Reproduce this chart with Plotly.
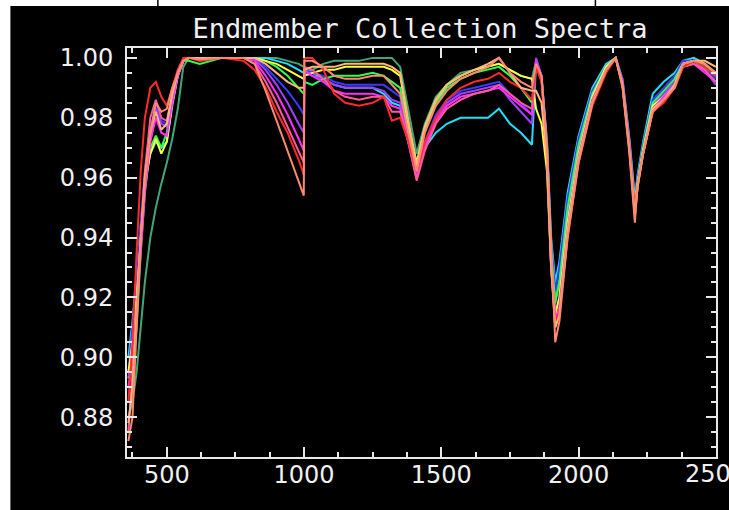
import plotly.graph_objects as go

# Wavelength samples (nm)
wavelength = [360, 375, 390, 405, 420, 440, 460, 480, 500, 520,
              540, 560, 580, 620, 700, 780, 820, 860, 900, 940,
              980, 999, 1001, 1030, 1070, 1110, 1150, 1200, 1250, 1290,
              1320, 1350, 1380, 1410, 1440, 1480, 1520, 1570, 1620, 1670,
              1710, 1750, 1790, 1830, 1845, 1865, 1885, 1900, 1915, 1930,
              1960, 2000, 2050, 2100, 2135, 2160, 2185, 2205, 2215, 2235,
              2270, 2310, 2350, 2380, 2420, 2460, 2500]

# Continuum-removed reflectance for each endmember
seagreen = [0.880, 0.885, 0.895, 0.910, 0.925, 0.940, 0.950, 0.958, 0.965, 0.973,
            0.983, 0.997, 1.000, 1.000, 1.000, 1.000, 1.000, 1.000, 1.000, 0.999,
            0.998, 0.997, 0.995, 0.996, 0.998, 0.999, 0.999, 0.999, 1.000, 1.000,
            1.000, 0.997, 0.982, 0.968, 0.978, 0.987, 0.991, 0.995, 0.996, 0.997,
            0.998, 0.996, 0.994, 0.993, 0.999, 0.994, 0.971, 0.936, 0.920, 0.926,
            0.950, 0.970, 0.987, 0.997, 1.000, 0.992, 0.972, 0.951, 0.959, 0.970,
            0.985, 0.988, 0.992, 0.998, 0.999, 0.997, 0.994]
cyan = [0.900, 0.912, 0.928, 0.945, 0.960, 0.968, 0.972, 0.970, 0.972, 0.984,
        0.994, 0.999, 1.000, 1.000, 1.000, 1.000, 1.000, 1.000, 0.999, 0.998,
        0.996, 0.995, 0.996, 0.995, 0.993, 0.991, 0.990, 0.990, 0.990, 0.988,
        0.985, 0.984, 0.972, 0.963, 0.970, 0.975, 0.978, 0.980, 0.980, 0.980,
        0.983, 0.978, 0.975, 0.971, 0.998, 0.993, 0.972, 0.940, 0.925, 0.932,
        0.955, 0.974, 0.990, 0.998, 1.000, 0.993, 0.973, 0.953, 0.961, 0.972,
        0.988, 0.992, 0.995, 0.999, 1.000, 0.998, 0.994]
blue = [0.895, 0.910, 0.925, 0.945, 0.962, 0.976, 0.984, 0.979, 0.978, 0.988,
        0.996, 1.000, 1.000, 1.000, 1.000, 1.000, 1.000, 0.997, 0.993, 0.989,
        0.984, 0.981, 0.996, 0.995, 0.994, 0.992, 0.991, 0.991, 0.991, 0.991,
        0.989, 0.987, 0.974, 0.962, 0.972, 0.981, 0.986, 0.989, 0.990, 0.991,
        0.992, 0.988, 0.985, 0.981, 0.999, 0.994, 0.972, 0.938, 0.922, 0.930,
        0.953, 0.973, 0.989, 0.997, 1.000, 0.993, 0.973, 0.952, 0.960, 0.971,
        0.986, 0.990, 0.994, 0.999, 0.999, 0.997, 0.993]
purple = [0.893, 0.905, 0.920, 0.940, 0.958, 0.974, 0.983, 0.978, 0.977, 0.987,
          0.995, 0.999, 1.000, 1.000, 1.000, 1.000, 0.9995, 0.996, 0.991, 0.985,
          0.978, 0.975, 0.995, 0.994, 0.993, 0.991, 0.990, 0.990, 0.990, 0.989,
          0.986, 0.985, 0.973, 0.961, 0.971, 0.980, 0.985, 0.988, 0.989, 0.990,
          0.991, 0.986, 0.982, 0.978, 1.000, 0.994, 0.970, 0.933, 0.915, 0.920,
          0.946, 0.969, 0.987, 0.997, 1.000, 0.992, 0.971, 0.951, 0.958, 0.969,
          0.984, 0.988, 0.992, 0.998, 0.999, 0.996, 0.991]
green = [0.893, 0.895, 0.910, 0.935, 0.955, 0.970, 0.974, 0.970, 0.975, 0.986,
         0.995, 0.999, 0.999, 0.998, 1.000, 1.000, 1.000, 0.999, 0.997, 0.994,
         0.990, 0.988, 0.992, 0.991, 0.993, 0.994, 0.994, 0.994, 0.995, 0.994,
         0.992, 0.990, 0.976, 0.964, 0.976, 0.985, 0.990, 0.993, 0.995, 0.996,
         0.997, 0.994, 0.990, 0.985, 0.998, 0.993, 0.970, 0.935, 0.918, 0.925,
         0.950, 0.971, 0.988, 0.997, 1.000, 0.992, 0.972, 0.952, 0.959, 0.970,
         0.985, 0.989, 0.993, 0.998, 0.999, 0.997, 0.994]
yellow = [0.895, 0.905, 0.920, 0.940, 0.958, 0.968, 0.973, 0.968, 0.972, 0.985,
          0.994, 0.999, 1.000, 1.000, 1.000, 1.000, 1.000, 0.999, 0.998, 0.996,
          0.994, 0.993, 0.994, 0.995, 0.996, 0.996, 0.997, 0.997, 0.997, 0.997,
          0.996, 0.994, 0.978, 0.965, 0.977, 0.986, 0.991, 0.994, 0.996, 0.997,
          0.998, 0.996, 0.994, 0.993, 0.983, 0.978, 0.962, 0.930, 0.914, 0.920,
          0.945, 0.968, 0.987, 0.997, 1.000, 0.991, 0.970, 0.950, 0.958, 0.969,
          0.984, 0.987, 0.991, 0.998, 0.999, 0.998, 0.995]
magenta = [0.890, 0.900, 0.915, 0.935, 0.955, 0.972, 0.980, 0.975, 0.974, 0.985,
           0.994, 0.999, 1.000, 1.000, 1.000, 1.000, 0.999, 0.994, 0.988, 0.981,
           0.973, 0.969, 0.996, 0.994, 0.992, 0.989, 0.988, 0.988, 0.988, 0.987,
           0.984, 0.983, 0.972, 0.960, 0.970, 0.979, 0.984, 0.987, 0.988, 0.989,
           0.990, 0.987, 0.984, 0.981, 0.999, 0.993, 0.968, 0.930, 0.912, 0.917,
           0.943, 0.967, 0.986, 0.996, 1.000, 0.992, 0.971, 0.950, 0.957, 0.968,
           0.983, 0.987, 0.991, 0.997, 0.998, 0.995, 0.992]
pink = [0.875, 0.895, 0.915, 0.940, 0.962, 0.980, 0.986, 0.980, 0.979, 0.988,
        0.995, 0.999, 1.000, 1.000, 1.000, 1.000, 0.998, 0.992, 0.985, 0.977,
        0.969, 0.965, 0.997, 0.996, 0.993, 0.989, 0.987, 0.986, 0.987, 0.987,
        0.982, 0.982, 0.972, 0.959, 0.969, 0.978, 0.983, 0.986, 0.988, 0.989,
        0.991, 0.988, 0.985, 0.983, 0.998, 0.993, 0.968, 0.930, 0.910, 0.915,
        0.941, 0.966, 0.985, 0.996, 1.000, 0.991, 0.970, 0.948, 0.957, 0.968,
        0.982, 0.986, 0.990, 0.997, 0.998, 0.996, 0.992]
red = [0.885, 0.905, 0.935, 0.962, 0.980, 0.990, 0.992, 0.987, 0.984, 0.990,
       0.996, 1.000, 1.000, 0.999, 1.000, 0.999, 0.996, 0.990, 0.982, 0.975,
       0.966, 0.961, 1.000, 1.000, 0.996, 0.988, 0.985, 0.984, 0.985, 0.987,
       0.979, 0.980, 0.972, 0.962, 0.972, 0.980, 0.986, 0.990, 0.992, 0.993,
       0.995, 0.992, 0.990, 0.986, 0.997, 0.992, 0.968, 0.932, 0.912, 0.915,
       0.940, 0.965, 0.984, 0.995, 1.000, 0.991, 0.970, 0.949, 0.957, 0.968,
       0.982, 0.985, 0.990, 0.997, 0.999, 0.997, 0.994]
tan = [0.878, 0.890, 0.915, 0.940, 0.960, 0.975, 0.982, 0.976, 0.978, 0.988,
       0.995, 0.999, 1.000, 1.000, 1.000, 1.000, 1.000, 0.998, 0.995, 0.992,
       0.990, 0.990, 0.996, 0.997, 0.997, 0.997, 0.998, 0.998, 0.998, 0.998,
       0.997, 0.995, 0.979, 0.964, 0.977, 0.986, 0.991, 0.994, 0.996, 0.998,
       1.000, 0.995, 0.990, 0.989, 0.989, 0.985, 0.965, 0.930, 0.910, 0.914,
       0.942, 0.966, 0.985, 0.996, 1.000, 0.991, 0.969, 0.947, 0.957, 0.968,
       0.983, 0.986, 0.991, 0.998, 0.999, 0.999, 0.997]
salmon = [0.872, 0.880, 0.910, 0.940, 0.958, 0.975, 0.985, 0.982, 0.983, 0.990,
          0.995, 0.999, 1.000, 0.9995, 1.000, 1.000, 0.998, 0.989, 0.979, 0.969,
          0.959, 0.954, 0.999, 0.999, 0.997, 0.994, 0.993, 0.993, 0.994, 0.994,
          0.991, 0.988, 0.975, 0.962, 0.975, 0.984, 0.989, 0.993, 0.995, 0.997,
          1.000, 0.995, 0.992, 0.990, 0.998, 0.994, 0.970, 0.935, 0.905, 0.912,
          0.940, 0.965, 0.985, 0.996, 1.000, 0.990, 0.968, 0.945, 0.958, 0.968,
          0.982, 0.986, 0.990, 0.998, 0.999, 0.998, 0.995]

series = [
    ("seagreen", seagreen, "#40a878"),
    ("cyan", cyan, "#20e0ff"),
    ("blue", blue, "#3a3aff"),
    ("purple", purple, "#a040ff"),
    ("green", green, "#30ff50"),
    ("yellow", yellow, "#ffff40"),
    ("magenta", magenta, "#ff30ff"),
    ("pink", pink, "#ff5a9a"),
    ("red", red, "#ff2a2a"),
    ("tan", tan, "#ffb878"),
    ("salmon", salmon, "#ff8a70"),
]

x_ticks = [500, 1000, 1500, 2000, 2500]
y_ticks = [0.88, 0.90, 0.92, 0.94, 0.96, 0.98, 1.00]

fig = go.Figure()
for name, vals, col in series:
    fig.add_trace(go.Scatter(x=wavelength, y=vals, mode="lines", name=name,
                             line=dict(color=col, width=2), showlegend=False))

W, H = 729, 510
ML, MR, MT, MB = 127, 11, 48, 53
pw, ph = W - ML - MR, H - MT - MB


def px_x(p):
    return (p - ML) / pw


def px_y(p):
    return (H - MB - p) / ph


text_color = "#f0f0f0"
axis_font = dict(family="DejaVu Sans", size=24, color=text_color)
common = dict(showgrid=False, zeroline=False, showline=True, linecolor="#e8e8e8",
              linewidth=2, mirror="ticks", ticks="inside", tickcolor="#e8e8e8",
              tickwidth=2, ticklen=10, tickfont=axis_font)

# The last x label sits on the plot's right edge; it is placed as an
# annotation so the page edge simply cuts it instead of resizing the axes.
x_labels = [str(v) for v in x_ticks[:-1]] + [""]

fig.update_layout(
    width=W, height=H,
    margin=dict(l=ML, r=MR, t=MT, b=MB, pad=0),
    paper_bgcolor="black", plot_bgcolor="black",
    title=dict(text="Endmember Collection Spectra", x=420 / W, xanchor="center",
               y=1 - 29 / H, yanchor="middle",
               font=dict(family="DejaVu Sans Mono", size=27, color=text_color)),
    xaxis=dict(range=[355, 2500.5], tickvals=x_ticks, ticktext=x_labels,
               ticklabelstandoff=-5,
               minor=dict(dtick=125, tick0=0, ticks="inside", ticklen=5,
                          tickcolor="#e8e8e8", tickwidth=2),
               **common),
    yaxis=dict(range=[0.8667, 1.0033], tickvals=y_ticks,
               ticktext=[f"{v:.2f}" for v in y_ticks],
               ticklabelstandoff=7,
               minor=dict(dtick=0.005, tick0=0, ticks="inside", ticklen=5,
                          tickcolor="#e8e8e8", tickwidth=2),
               **common),
    annotations=[
        dict(x=x_ticks[-1], xref="x", y=0, yref="paper", text=str(x_ticks[-1]),
             showarrow=False, xanchor="center", yanchor="top", yshift=-1,
             font=axis_font),
    ],
    shapes=[
        dict(type="rect", xref="paper", yref="paper", x0=px_x(-5), x1=px_x(10),
             y0=px_y(520), y1=px_y(-5), fillcolor="white", line=dict(width=0)),
        dict(type="rect", xref="paper", yref="paper", x0=px_x(-5), x1=px_x(735),
             y0=px_y(6), y1=px_y(-5), fillcolor="white", line=dict(width=0)),
        dict(type="line", xref="paper", yref="paper", x0=px_x(158), x1=px_x(158),
             y0=px_y(6), y1=px_y(0), line=dict(color="black", width=1.5)),
        dict(type="line", xref="paper", yref="paper", x0=px_x(597), x1=px_x(597),
             y0=px_y(6), y1=px_y(0), line=dict(color="black", width=1.5)),
    ],
)

fig.write_html("out.html")
